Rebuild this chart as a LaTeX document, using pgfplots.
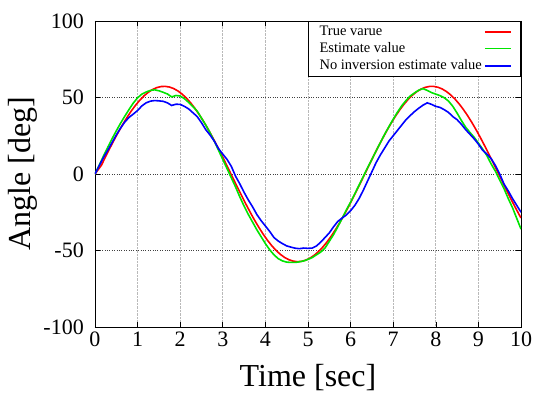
\documentclass[border=0pt]{standalone}
\usepackage{fontspec}
\setmainfont{Liberation Serif}
\usepackage{pgfplots}
\pgfplotsset{compat=1.18}
\usetikzlibrary{calc}

\definecolor{tvred}{rgb}{1,0,0}
\definecolor{esgreen}{rgb}{0,0.9,0}
\definecolor{nibblue}{rgb}{0,0,1}

\begin{document}
\begin{tikzpicture}
\begin{axis}[%
scale only axis,
width=426pt,
height=306pt,
xmin=0, xmax=10,
ymin=-100, ymax=100,
xtick={0,1,2,3,4,5,6,7,8,9,10},
xticklabels={0,1,2,3,4,5,6,7,8,9,10},
ytick={-100,-50,0,50,100},
yticklabels={-100,-50,0,50,100},
tick align=inside,
major tick length=5pt,
tick style={black, line width=0.6pt},
axis line style={line width=0.8pt},
xmajorgrids, ymajorgrids,
x grid style={gray!55, densely dotted, line width=0.8pt},
y grid style={black!75, dotted, line width=0.8pt},
ticklabel style={font=\fontsize{22}{24}\selectfont, inner sep=1pt},
xticklabel style={yshift=-4pt},
yticklabel style={xshift=-10pt},
xlabel={Time [sec]},
ylabel={Angle [deg]},
label style={font=\fontsize{32}{34}\selectfont},
xlabel style={yshift=-13pt},
ylabel style={yshift=2pt},
legend plot pos=right,
legend cell align=left,
legend image code/.code={\draw[#1, line width=1.8pt] (0pt,0pt) -- (26pt,0pt);},
legend style={at={(1,1)}, anchor=north east, draw=black, line width=0.6pt,
  font=\fontsize{14.5}{15}\selectfont, inner xsep=9pt, inner ysep=3pt,
  row sep=1.5pt, /tikz/every even column/.append style={column sep=7pt}},
]
\coordinate (bl) at (rel axis cs:0,0);
\coordinate (tr) at (rel axis cs:1,1);

% true value
\addplot[tvred, line width=1.6pt] coordinates {
(0,0) (0.15,5.72) (0.25,11.38) (0.35,16.93) (0.45,22.31) (0.55,27.47) (0.65,32.35)
(0.75,36.91) (0.85,41.10) (0.95,44.88) (1.05,48.21) (1.15,51.06) (1.25,53.40)
(1.35,55.21) (1.45,56.46) (1.55,57.15) (1.65,57.27) (1.75,56.82) (1.85,55.80)
(1.95,54.22) (2.05,52.10) (2.15,49.46) (2.25,46.33) (2.35,42.73) (2.45,38.71)
(2.55,34.29) (2.65,29.54) (2.75,24.49) (2.85,19.20) (2.95,13.71) (3.05,8.09)
(3.15,2.38) (3.25,-3.35) (3.35,-9.04) (3.45,-14.64) (3.55,-20.10) (3.65,-25.36)
(3.75,-30.36) (3.85,-35.06) (3.95,-39.41) (4.05,-43.36) (4.15,-46.89) (4.25,-49.94)
(4.35,-52.50) (4.45,-54.53) (4.55,-56.01) (4.65,-56.94) (4.75,-57.30) (4.85,-57.08)
(4.95,-56.30) (5.05,-54.94) (5.15,-53.05) (5.25,-50.62) (5.35,-47.69) (5.45,-44.28)
(5.55,-40.43) (5.65,-36.17) (5.75,-31.56) (5.85,-26.62) (5.95,-21.42) (6.05,-16.01)
(6.15,-10.44) (6.25,-4.76) (6.35,0.96) (6.45,6.68) (6.55,12.33) (6.65,17.85)
(6.75,23.19) (6.85,28.31) (6.95,33.14) (7.05,37.65) (7.15,41.77) (7.25,45.48)
(7.35,48.73) (7.45,51.50) (7.55,53.75) (7.65,55.46) (7.75,56.62) (7.85,57.22)
(7.95,57.24) (8.05,56.69) (8.15,55.58) (8.25,53.90) (8.35,51.70) (8.45,48.97)
(8.55,45.75) (8.65,42.08) (8.75,37.99) (8.85,33.51) (8.95,28.71) (9.05,23.61)
(9.15,18.28) (9.25,12.77) (9.35,7.13) (9.45,1.42) (9.55,-4.31) (9.65,-9.99)
(9.75,-15.57) (9.85,-21.00) (9.95,-26.22) (10,-28.7)
};
\addlegendentry{True varue}

% estimate
\addplot[esgreen, line width=1.6pt] coordinates {
(0,0) (0.1,5.8) (0.2,11.8) (0.3,17.5) (0.4,23.0) (0.5,28.2) (0.6,33.2) (0.7,37.8)
(0.8,42.2) (0.9,46.4) (1.0,49.8) (1.1,52.2) (1.2,53.6) (1.3,54.6) (1.4,55.0)
(1.5,54.4) (1.6,53.4) (1.7,52.3) (1.8,50.4) (1.9,51.3) (2.0,51.0) (2.1,49.2)
(2.2,46.8) (2.3,44.0) (2.4,41.0) (2.5,36.5) (2.6,32.0) (2.7,27.0) (2.8,21.5)
(2.9,15.5) (3.0,9.5) (3.1,3.5) (3.2,-2.5) (3.3,-8.5) (3.4,-15.0) (3.5,-21.0)
(3.6,-26.5) (3.7,-31.5) (3.8,-36.5) (3.9,-41.0) (4.0,-45.5) (4.1,-49.5) (4.2,-52.8)
(4.3,-55.3) (4.4,-56.8) (4.5,-57.6) (4.6,-57.8) (4.7,-57.8) (4.8,-57.4) (4.9,-56.8)
(5.0,-55.8) (5.1,-54.6) (5.2,-52.8) (5.3,-51.0) (5.4,-48.4) (5.5,-44.0) (5.6,-39.6)
(5.7,-34.5) (5.8,-29.0) (5.9,-23.5) (6.0,-18.4) (6.1,-12.8) (6.2,-7.2) (6.3,-1.5)
(6.4,4.2) (6.5,9.6) (6.6,15.2) (6.7,20.6) (6.8,26.0) (6.9,31.0) (7.0,35.8)
(7.1,40.4) (7.2,44.6) (7.3,48.0) (7.4,51.0) (7.5,53.0) (7.6,54.8) (7.7,55.8)
(7.8,54.6) (7.9,53.2) (8.0,52.2) (8.1,51.2) (8.2,49.8) (8.3,47.6) (8.4,44.2)
(8.5,39.8) (8.6,35.0) (8.7,30.6) (8.8,27.2) (8.9,24.0) (9.0,20.2) (9.1,16.3)
(9.2,12.0) (9.3,6.5) (9.4,1.8) (9.5,-4.0) (9.6,-9.5) (9.7,-16.0) (9.8,-22.0)
(9.9,-29.0) (10.0,-36.0)
};
\addlegendentry{Estimate value}

% no inversion estimate
\addplot[nibblue, line width=1.6pt] coordinates {
(0,0) (0.1,5.5) (0.2,10.8) (0.3,15.5) (0.4,20.5) (0.5,25.5) (0.6,30.0) (0.7,34.0)
(0.8,37.0) (0.9,39.2) (1.0,41.5) (1.1,44.5) (1.2,46.5) (1.3,47.6) (1.4,48.0)
(1.5,47.8) (1.6,47.5) (1.7,46.5) (1.8,44.8) (1.9,45.6) (2.0,45.5) (2.1,44.2)
(2.2,42.5) (2.3,40.0) (2.4,37.5) (2.5,33.5) (2.6,29.0) (2.7,25.5) (2.8,21.5)
(2.9,16.5) (3.0,13.0) (3.1,9.5) (3.2,5.0) (3.3,-1.5) (3.4,-6.5) (3.5,-12.0)
(3.6,-17.0) (3.7,-21.5) (3.8,-26.5) (3.9,-30.5) (4.0,-34.0) (4.1,-37.5) (4.2,-41.5)
(4.3,-43.8) (4.4,-45.5) (4.5,-47.0) (4.6,-47.8) (4.7,-48.5) (4.8,-48.8) (4.9,-48.4)
(5.0,-48.6) (5.1,-48.4) (5.2,-47.0) (5.3,-44.5) (5.4,-41.5) (5.5,-38.5) (5.6,-34.5)
(5.7,-31.0) (5.8,-28.8) (5.9,-26.8) (6.0,-24.0) (6.1,-20.5) (6.2,-16.0) (6.3,-10.5)
(6.4,-4.5) (6.5,1.5) (6.6,7.5) (6.7,12.5) (6.8,17.0) (6.9,21.5) (7.0,25.0)
(7.1,28.5) (7.2,32.0) (7.3,35.5) (7.4,38.2) (7.5,40.8) (7.6,43.0) (7.7,45.0)
(7.8,46.5) (7.9,45.5) (8.0,44.2) (8.1,43.5) (8.2,42.0) (8.3,40.2) (8.4,37.5)
(8.5,35.5) (8.6,32.5) (8.7,29.0) (8.8,26.0) (8.9,23.0) (9.0,19.5) (9.1,15.5)
(9.2,13.0) (9.3,10.0) (9.4,5.5) (9.5,0.0) (9.6,-6.5) (9.7,-11.0) (9.8,-16.0)
(9.9,-20.5) (10.0,-25.0)
};
\addlegendentry{No inversion estimate value}
\end{axis}
\pgfresetboundingbox
\path (bl) ++(-95pt,-74pt) rectangle ($(tr)+(14pt,21pt)$);
\end{tikzpicture}
\end{document}
